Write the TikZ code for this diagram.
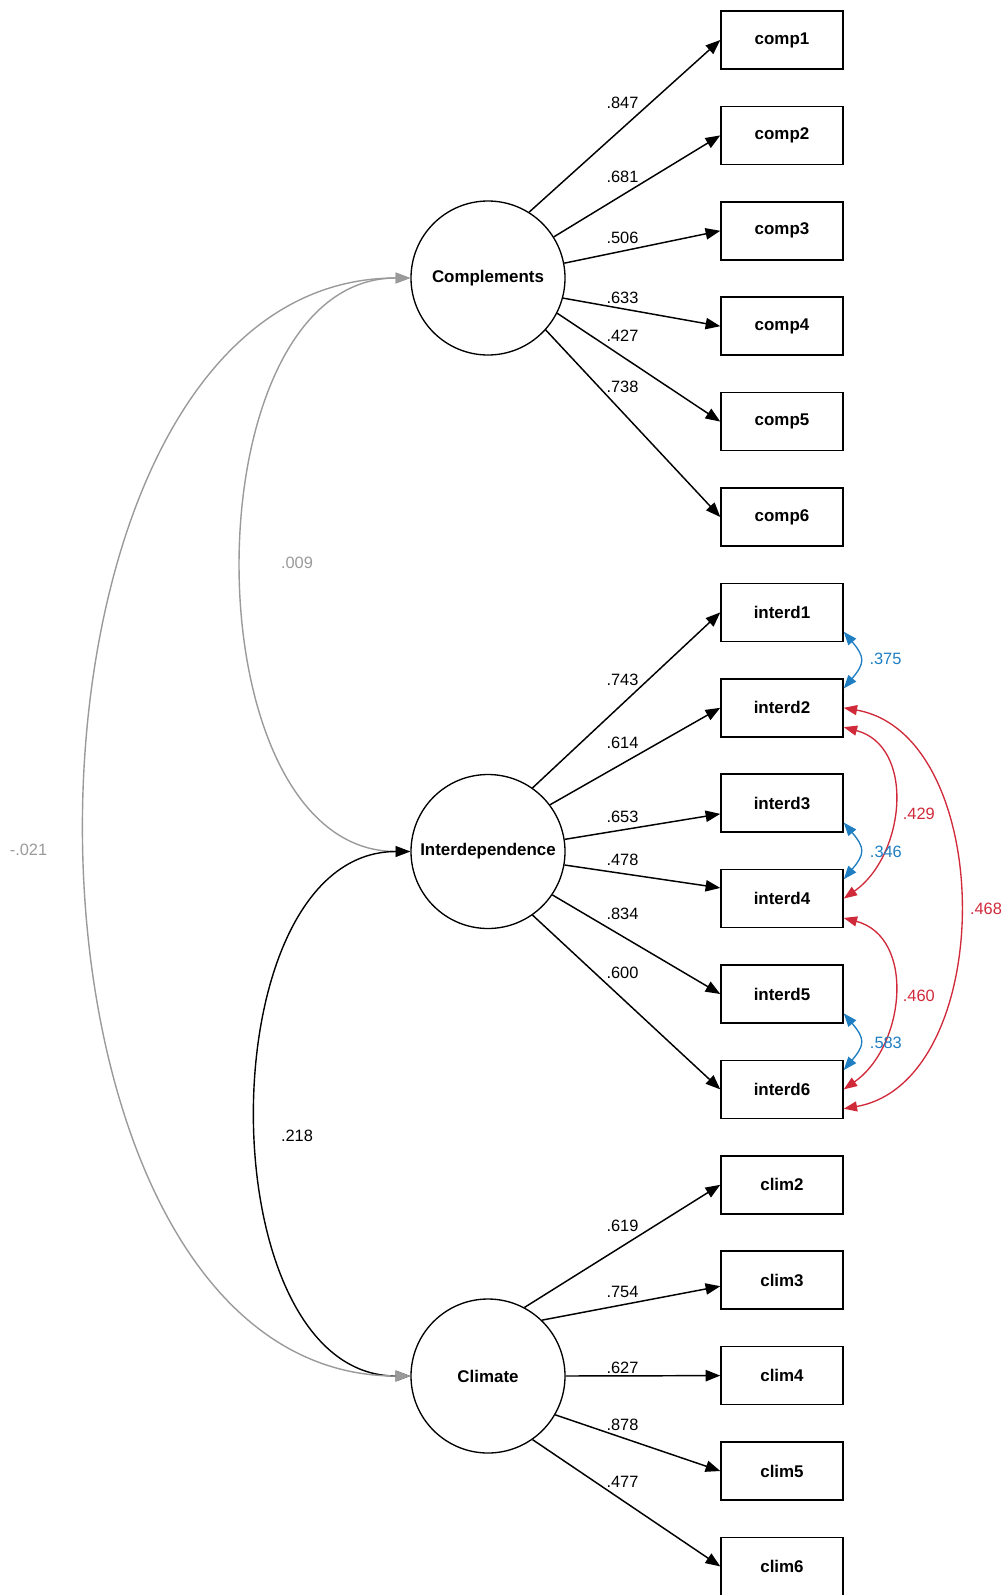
\documentclass[tikz,border=0pt]{standalone}
\usepackage{fontspec}
\setmainfont{Liberation Sans}
\usetikzlibrary{arrows.meta}
\definecolor{covgray}{HTML}{9A9A9A}
\definecolor{covblue}{HTML}{1F7EC2}
\definecolor{covred}{HTML}{D02A3A}
\begin{document}
\begin{tikzpicture}[x=0.75pt,y=-0.75pt,
  latent/.style={circle,draw,line width=1pt,minimum size=115.5pt,inner sep=0pt,font=\bfseries\fontsize{12.7}{14}\selectfont},
  obs/.style={rectangle,draw,line width=1.1pt,minimum width=91.5pt,minimum height=43.5pt,inner sep=0pt,font=\bfseries\fontsize{12.7}{14}\selectfont},
  load/.style={-{Triangle[length=11pt,width=8.5pt]},line width=1.1pt},
  lbl/.style={font=\fontsize{12.3}{14}\selectfont,inner sep=0pt},
  cov/.style={{Triangle[length=10pt,width=7.5pt]}-{Triangle[length=10pt,width=7.5pt]},line width=1pt},
  lcov/.style={{Triangle[length=11pt,width=8pt]}-{Triangle[length=11pt,width=8pt]},line width=1.05pt},
]
\useasboundingbox (0,0) rectangle (1006,1595);

% latent variables
\node[latent] (Complements) at (488,278) {Complements};
\node[latent] (Interdependence) at (488,851.5) {Interdependence};
\node[latent] (Climate) at (488,1376) {Climate};

% observed variables
\foreach \n [count=\i from 0] in {comp1,comp2,comp3,comp4,comp5,comp6,interd1,interd2,interd3,interd4,interd5,interd6,clim2,clim3,clim4,clim5,clim6}
  \node[obs] (\n) at (782,{40+95.4*\i}) {\n};

% loadings
\draw[load] (Complements.58) -- (comp1.west);
\draw[load] (Complements.32) -- (comp2.west);
\draw[load] (Complements.11.5) -- (comp3.west);
\draw[load] (Complements.-15) -- (comp4.west);
\draw[load] (Complements.-27) -- (comp5.west);
\draw[load] (Complements.-42.5) -- (comp6.west);

\draw[load] (Interdependence.55.5) -- (interd1.west);
\draw[load] (Interdependence.37.5) -- (interd2.west);
\draw[load] (Interdependence.9) -- ([yshift=-8pt]interd3.west);
\draw[load] (Interdependence.-10) -- ([yshift=8pt]interd4.west);
\draw[load] (Interdependence.-34) -- (interd5.west);
\draw[load] (Interdependence.-55.5) -- (interd6.west);

\draw[load] (Climate.62) -- (clim2.west);
\draw[load] (Climate.46) -- ([yshift=-4.5pt]clim3.west);
\draw[load] (Climate.0) -- (clim4.west);
\draw[load] (Climate.-30) -- (clim5.west);
\draw[load] (Climate.-55.5) -- (clim6.west);

% loading labels
\node[lbl] (l847) at (622.5,102.7) {.847};
\node[lbl] (l681) at (622.5,176.7) {.681};
\node[lbl] (l506) at (622.5,238.3) {.506};
\node[lbl] (l633) at (622.5,297.7) {.633};
\node[lbl] (l427) at (622.5,336) {.427};
\node[lbl] (l738) at (622.5,386.5) {.738};
\node[lbl] (l743) at (622.5,679.5) {.743};
\node[lbl] (l614) at (622.5,742.6) {.614};
\node[lbl] (l653) at (622.5,816.7) {.653};
\node[lbl] (l478) at (622.5,860) {.478};
\node[lbl] (l834) at (622.5,914) {.834};
\node[lbl] (l600) at (622.5,972.7) {.600};
\node[lbl] (l619) at (622.5,1225.7) {.619};
\node[lbl] (l754) at (622.5,1291.5) {.754};
\node[lbl] (l627) at (622.5,1367.5) {.627};
\node[lbl] (l878) at (622.5,1425) {.878};
\node[lbl] (l477) at (622.5,1482.3) {.477};

% latent covariances
\draw[lcov,covgray] (Complements.west) to[out=180,in=180,looseness=1.0] (Interdependence.west);
\draw[lcov,black] (Interdependence.west) to[out=180,in=180,looseness=1.0] (Climate.west);
\draw[lcov,covgray] (Complements.west) to[out=180,in=180,looseness=1.01] (Climate.west);
\node[lbl,text=covgray] (c009) at (297,562.5) {.009};
\node[lbl] (c218) at (297,1136.2) {.218};
\node[lbl,text=covgray] (c021) at (28.5,849.4) {-.021};

% error covariances
\draw[cov,covblue] ([yshift=-14.5pt]interd1.east) to[out=-50,in=50,looseness=1.5] ([yshift=14.5pt]interd2.east);
\draw[cov,covblue] ([yshift=-14.5pt]interd3.east) to[out=-50,in=50,looseness=1.5] ([yshift=14.5pt]interd4.east);
\draw[cov,covblue] ([yshift=-14.5pt]interd5.east) to[out=-50,in=50,looseness=1.5] ([yshift=14.5pt]interd6.east);
\draw[cov,covred] ([yshift=-14.5pt]interd2.east) to[out=-15,in=35,looseness=1.12] (interd4.east);
\draw[cov,covred] ([yshift=-14.5pt]interd4.east) to[out=-15,in=35,looseness=1.12] (interd6.east);
\draw[cov,covred] (interd2.east) to[out=-10,in=10,looseness=1.0] ([yshift=-14.5pt]interd6.east);

\node[lbl,text=covblue] (e375) at (885.5,658.5) {.375};
\node[lbl,text=covblue] (e346) at (885.9,852) {.346};
\node[lbl,text=covblue] (e583) at (885.9,1042.6) {.583};
\node[lbl,text=covred] (e429) at (918.8,813.5) {.429};
\node[lbl,text=covred] (e460) at (918.8,996) {.460};
\node[lbl,text=covred] (e468) at (986,909) {.468};
\end{tikzpicture}
\end{document}
